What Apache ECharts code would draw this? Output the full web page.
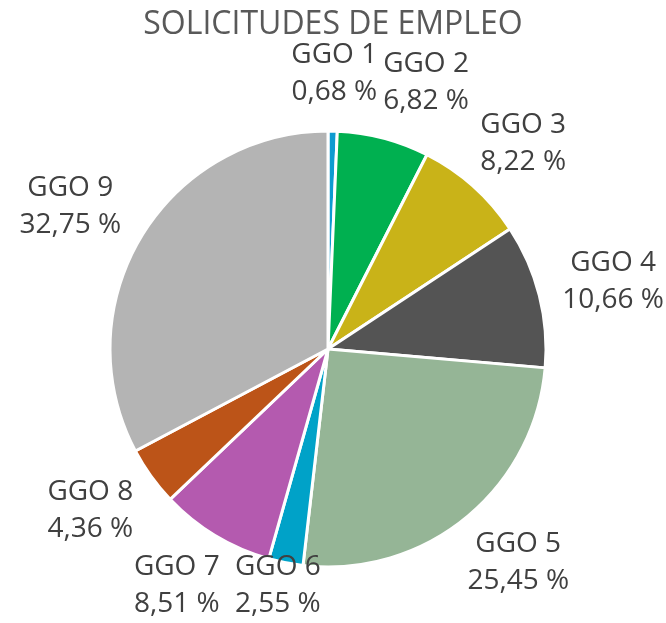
<!DOCTYPE html>
<html><head><meta charset="utf-8">
<script src="https://cdn.jsdelivr.net/npm/echarts@6/dist/echarts.min.js"></script>
<style>html,body{margin:0;padding:0;background:#fff}#c{width:666px;height:623px}</style>
</head><body><div id="c"></div>
<script>
const categories = ['GGO 1','GGO 2','GGO 3','GGO 4','GGO 5','GGO 6','GGO 7','GGO 8','GGO 9'];
const values = [0.68, 6.82, 8.22, 10.66, 25.45, 2.55, 8.51, 4.36, 32.75];
const colors = ['#0E9BD0','#00B050','#C9B318','#545454','#95B596','#00A2C8','#B45AAF','#BC5418','#B4B4B4'];

const CX = 328, CY = 349, R = 218, ANCHOR_R = 250, HALF_H = 26, MAX_CY = 586, MAX_RIGHT = 664;
const total = values.reduce((a,b)=>a+b,0);
const mids = [];
let acc = 0;
values.forEach(v => { mids.push((acc + v/2) / total * 2 * Math.PI); acc += v; });
let placed = [];

const chart = echarts.init(document.getElementById('c'));
chart.setOption({
  animation: false,
  title: {
    text: 'SOLICITUDES DE EMPLEO', left: 'center', top: 4,
    textStyle: { fontFamily: 'Open Sans', fontSize: 32, fontWeight: 'normal', color: '#595959' }
  },
  series: [{
    type: 'pie',
    center: [CX, CY],
    radius: [0, R],
    startAngle: 90,
    clockwise: true,
    data: categories.map((n,i)=>({name:n, value:values[i], itemStyle:{color:colors[i]}})),
    itemStyle: { borderColor: '#fff', borderWidth: 3 },
    label: {
      show: true, position: 'outside', overflow: 'none',
      formatter: p => p.name + '\n' + p.value.toFixed(2).replace('.', ',') + ' %',
      fontFamily: 'Open Sans', fontSize: 28, lineHeight: 37, color: '#404040', align: 'center'
    },
    labelLine: { show: false },
    labelLayout: function (p) {
      if (p.dataIndex === 0) placed = [];
      const a = mids[p.dataIndex];
      const sx = Math.sin(a), sy = -Math.cos(a);
      const w = p.labelRect.width;
      let dd = ANCHOR_R;
      let y = CY + dd*sy + HALF_H*sy;
      if (y > MAX_CY) { dd = (MAX_CY - CY) / sy - HALF_H; y = MAX_CY; }
      let x = CX + dd*sx + (w/2)*sx;
      if (x + w/2 > MAX_RIGHT) x = MAX_RIGHT - w/2;
      placed.forEach(r => {
        const ov = (x - w/2 < r.x + r.w/2) && (x + w/2 > r.x - r.w/2) && Math.abs(y - r.y) < 60;
        if (ov) {
          if (sx >= 0) x = r.x + r.w/2 + 6 + w/2; else x = r.x - r.w/2 - 6 - w/2;
        }
      });
      placed.push({x: x, y: y, w: w});
      return { x: x, y: y, align: 'center', verticalAlign: 'middle' };
    }
  }]
});
</script></body></html>
